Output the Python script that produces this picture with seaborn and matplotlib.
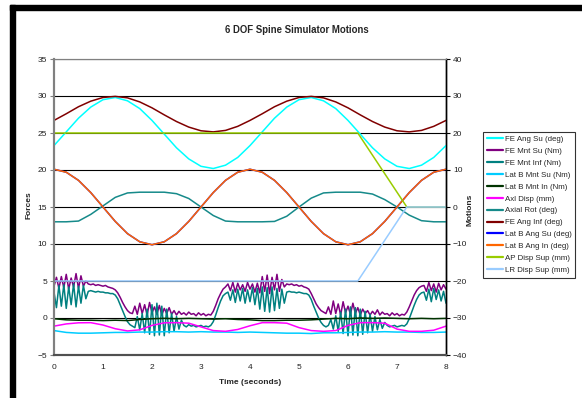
import numpy as np
import pandas as pd
import matplotlib
matplotlib.use("Agg")
import matplotlib.pyplot as plt
import seaborn as sns
from matplotlib.patches import Rectangle

# sample times: 0.25 s for the smooth channels, 0.05 s for the load cells
t_coarse = np.round(np.arange(33) * 0.25, 2)
t_fine = np.round(np.arange(161) * 0.05, 2)

# --- motions (right axis) ---
fe_ang_su = [16.6, 20.3, 24.0, 27.0, 29.0, 29.6, 28.7, 26.6, 23.4, 19.7, 16.0, 13.0, 11.0,
             10.4, 11.3, 13.4, 16.6, 20.3, 24.0, 27.0, 29.0, 29.6, 28.7, 26.6, 23.4, 19.7,
             16.0, 13.0, 11.0, 10.4, 11.3, 13.4, 16.6]
fe_ang_inf = [23.4, 25.2, 27.1, 28.6, 29.6, 29.9, 29.5, 28.4, 26.8, 24.9, 23.1, 21.6, 20.6,
              20.3, 20.7, 21.8, 23.4, 25.2, 27.1, 28.6, 29.6, 29.9, 29.5, 28.4, 26.8, 24.9,
              23.1, 21.6, 20.6, 20.3, 20.7, 21.8, 23.4]
lat_b_ang_su = [10.2, 9.4, 7.2, 3.9, 0.0, -3.9, -7.2, -9.4, -10.2, -9.4, -7.2, -3.9, 0.0,
                3.9, 7.2, 9.4, 10.2, 9.4, 7.2, 3.9, 0.0, -3.9, -7.2, -9.4, -10.2, -9.4,
                -7.2, -3.9, 0.0, 3.9, 7.2, 9.4, 10.2]
lat_b_ang_in = [10.2, 9.4, 7.2, 3.9, 0.0, -3.9, -7.2, -9.4, -10.2, -9.4, -7.2, -3.9, 0.0,
                3.9, 7.2, 9.4, 10.2, 9.4, 7.2, 3.9, 0.0, -3.9, -7.2, -9.4, -10.2, -9.4,
                -7.2, -3.9, 0.0, 3.9, 7.2, 9.4, 10.2]
axial_rot = [-4.0, -4.0, -3.8, -2.0, 0.3, 2.6, 3.8, 4.0, 4.0, 4.0, 3.6, 2.3, 0.0, -2.3,
             -3.8, -4.0, -4.0, -4.0, -3.9, -2.5, 0.0, 2.4, 3.8, 4.0, 4.0, 4.0, 3.5, 2.0,
             0.0, -2.2, -3.7, -4.0, -4.0]
disp_t = [0, 6.2, 7.2, 8]
ap_disp_sup = [20, 20, 0, 0]
lr_disp_sup = [-20, -20, 0, 0]

# --- forces (left axis) ---
lat_b_mnt_su = [-1.7, -1.95, -2.05, -2.05, -2.0, -1.95, -1.95, -1.9, -1.9, -1.85, -1.85,
                -1.9, -1.85, -1.9, -1.9, -1.95, -1.9, -1.95, -2.0, -2.05, -2.05, -2.1,
                -2.0, -2.0, -1.95, -1.9, -1.9, -1.85, -1.9, -1.9, -1.95, -1.95, -1.9]
lat_b_mnt_in = [-0.1, -0.25, -0.3, -0.3, -0.35, -0.3, -0.35, -0.2, -0.1, -0.05, -0.1,
                -0.05, -0.1, -0.15, -0.1, -0.2, -0.25, -0.35, -0.35, -0.3, -0.3, -0.25,
                -0.15, -0.05, -0.1, 0.0, -0.05, 0.0, -0.05, -0.1, -0.05, -0.1, -0.05]
axl_disp = [-1.1, -0.8, -0.65, -0.63, -0.95, -1.45, -1.75, -1.6, -1.0, -0.65, -0.63, -0.7,
            -1.2, -1.7, -1.8, -1.55, -1.05, -0.63, -0.63, -0.7, -1.3, -1.7, -1.8, -1.7,
            -1.0, -0.63, -0.63, -0.7, -1.5, -1.8, -1.8, -1.65, -1.1]

fe_mnt_su = [4.3, 5.5, 4.0, 5.6, 4.1, 5.9, 3.9, 5.4, 4.2, 6.0, 4.0, 5.7, 4.3, 5.0,
             4.6, 4.5, 4.6, 4.4, 4.5, 4.4, 4.3, 4.4, 4.2, 4.1, 4.0, 3.8,
             3.4, 2.8, 2.1, 1.5, 1.0, 0.7, 0.6,
             1.6, 0.5, 2.0, 0.6, 1.8, 0.4, 2.1, 0.7, 1.5, 0.5, 1.7, 0.4, 1.3, 0.6, 1.4,
             0.5, 1.0, 0.4, 0.9, 0.5,
             0.7, 0.4, 0.8, 0.5, 0.6, 0.3, 0.7, 0.4, 0.6, 0.3, 0.5, 0.4,
             0.9, 1.7, 2.6, 3.3, 3.9, 4.2,
             4.6, 3.7, 4.8, 3.5, 4.7, 3.8, 4.5, 3.6, 4.8, 3.9, 4.6, 3.5, 4.7,
             3.4, 5.6, 3.6, 5.8, 3.3, 5.5, 3.8, 5.9, 3.6, 5.2, 4.2,
             4.6, 4.5, 4.6, 4.4, 4.5, 4.3, 4.4, 4.2, 4.1, 3.9,
             3.3, 2.6, 1.9, 1.4, 1.0, 0.8, 0.6,
             1.5, 0.5, 2.3, 0.6, 1.9, 0.4, 2.2, 0.7, 1.6, 0.5, 2.0, 0.6, 1.4, 0.4, 1.2,
             0.6, 1.0, 0.4, 0.9, 0.5, 1.1, 0.4, 0.8, 0.5,
             0.6, 0.3, 0.7, 0.4, 0.6, 0.3, 0.5, 0.4,
             0.8, 1.5, 2.3, 3.1, 3.7, 4.1, 4.3, 4.4,
             3.6, 4.8, 3.7, 4.6, 3.5, 4.7, 3.8, 4.5, 3.9]
fe_mnt_inf = [3.5, 1.4, 4.4, 1.6, 4.5, 1.3, 4.2, 1.8, 4.6, 1.5, 4.3, 2.0, 4.4, 2.6,
              3.6, 3.7, 3.6, 3.5, 3.6, 3.5, 3.5, 3.4, 3.4, 3.3, 3.3, 3.1,
              2.6, 1.8, 1.0, 0.2, -0.5, -0.9, -1.1,
              -1.3, 0.2, -1.6, 0.6, -2.0, 1.2, -2.2, 1.8, -2.4, 2.0, -2.3, 1.6, -2.4, 1.2,
              -2.0, 0.6, -1.8, 0.2, -1.5, -0.3,
              -1.0, -1.2, -0.9, -1.1, -1.0, -1.2, -1.1, -1.0, -1.2, -1.1, -1.2, -1.0,
              -0.5, 0.4, 1.4, 2.3, 3.0, 3.3,
              3.5, 2.4, 3.8, 2.1, 3.9, 2.3, 4.0, 2.0, 3.8, 2.2, 4.1, 1.8, 4.0,
              1.2, 4.2, 0.9, 4.1, 0.8, 4.2, 1.0, 4.0, 1.3, 3.9, 2.0,
              3.5, 3.6, 3.5, 3.5, 3.4, 3.5, 3.4, 3.3, 3.3, 3.1,
              2.5, 1.6, 0.8, 0.0, -0.6, -1.0, -1.2,
              -1.0, -0.2, -1.5, 0.3, -1.8, 0.8, -2.1, 1.2, -2.4, 1.5, -2.3, 1.4, -2.4, 1.2,
              -2.2, 0.9, -2.0, 0.5, -1.8, 0.2, -1.6, -0.2, -1.4, -0.6,
              -1.0, -1.2, -1.1, -1.0, -1.2, -1.1, -1.0, -1.1,
              -0.8, -0.1, 0.8, 1.7, 2.5, 3.1, 3.4, 3.5,
              2.4, 3.9, 2.2, 4.0, 2.5, 3.8, 2.3, 3.6, 2.0]

legend_order = ["FE Ang Su (deg)", "FE Mnt Su (Nm)", "FE Mnt Inf (Nm)", "Lat B Mnt Su (Nm)",
                "Lat B Mnt In (Nm)", "Axl Disp (mm)", "Axial Rot (deg)", "FE Ang Inf (deg)",
                "Lat B Ang Su (deg)", "Lat B Ang In (deg)", "AP Disp Sup (mm)",
                "LR Disp Sup (mm)"]

sns.set_style("white")
plt.rcParams["font.family"] = ["Liberation Sans", "DejaVu Sans"]

fig = plt.figure(figsize=(5.82, 3.98), dpi=100)
ax = fig.add_axes([54 / 582, 1 - 355 / 398, (446 - 54) / 582, (355 - 59) / 398])
ax2 = ax.twinx()

lw = 1.1
lines = {}


def draw(axis, x, y, color, label):
    sns.lineplot(x=x, y=y, ax=axis, color=color, linewidth=lw, label=label, sort=False)
    lines[label] = axis.lines[-1]


# primary axis first (Excel draws it underneath)
draw(ax, t_fine, fe_mnt_su, "#800080", "FE Mnt Su (Nm)")
draw(ax, t_fine, fe_mnt_inf, "#008080", "FE Mnt Inf (Nm)")
draw(ax, t_coarse, lat_b_mnt_su, "#00CCFF", "Lat B Mnt Su (Nm)")
draw(ax, t_coarse, lat_b_mnt_in, "#003300", "Lat B Mnt In (Nm)")
draw(ax, t_coarse, axl_disp, "#FF00FF", "Axl Disp (mm)")

draw(ax2, t_coarse, fe_ang_su, "#00FFFF", "FE Ang Su (deg)")
draw(ax2, t_coarse, axial_rot, "#168A8A", "Axial Rot (deg)")
draw(ax2, t_coarse, fe_ang_inf, "#800000", "FE Ang Inf (deg)")
draw(ax2, t_coarse, lat_b_ang_su, "#0000FF", "Lat B Ang Su (deg)")
draw(ax2, t_coarse, lat_b_ang_in, "#FF6600", "Lat B Ang In (deg)")
draw(ax2, disp_t, ap_disp_sup, "#99CC00", "AP Disp Sup (mm)")
draw(ax2, disp_t, lr_disp_sup, "#99CCFF", "LR Disp Sup (mm)")

for a in (ax, ax2):
    if a.get_legend() is not None:
        a.get_legend().remove()

ax.set_xlim(0, 8)
ax.set_ylim(-5, 35)
ax2.set_ylim(-40, 40)
ax.set_xticks(range(0, 9))
ax.set_yticks(range(-5, 36, 5))
ax2.set_yticks(range(-40, 41, 10))
ax.set_xlabel("")
ax.set_ylabel("")
ax2.set_ylabel("")

ax.yaxis.grid(True, color="black", linewidth=0.8)
ax.xaxis.grid(False)
ax2.grid(False)

tick_kw = dict(labelsize=6, labelcolor="#222222", width=0.8, length=3, pad=2)
ax.tick_params(axis="y", direction="out", color="#808080", **tick_kw)
ax.tick_params(axis="x", direction="inout", color="#404040", **tick_kw)
ax.tick_params(axis="x", pad=5)
ax2.tick_params(axis="y", direction="out", color="black", **tick_kw)

for a in (ax, ax2):
    a.spines["left"].set_color("#808080")
    a.spines["left"].set_linewidth(1.5)
    a.spines["bottom"].set_color("#505050")
    a.spines["bottom"].set_linewidth(1.5)
    a.spines["right"].set_color("black")
    a.spines["right"].set_linewidth(1.0)
    a.spines["top"].set_color("#808080")
    a.spines["top"].set_linewidth(0.8)

fig.text(297 / 582, 1 - 30 / 398, "6 DOF Spine Simulator Motions", ha="center", va="center",
         fontsize=6.9, fontweight="bold")
fig.text(250 / 582, 1 - 382 / 398, "Time (seconds)", ha="center", va="center",
         fontsize=6, fontweight="bold")
fig.text(29 / 582, 1 - 205 / 398, "Forces", ha="center", va="center", rotation=90,
         fontsize=6, fontweight="bold")
fig.text(470 / 582, 1 - 210 / 398, "Motions", ha="center", va="center", rotation=90,
         fontsize=6, fontweight="bold")

leg = fig.legend([lines[k] for k in legend_order], legend_order, loc="upper left",
                 bbox_to_anchor=(483 / 582, 1 - 132 / 398), fontsize=5.7, frameon=True,
                 fancybox=False, edgecolor="black", handlelength=2.1, handletextpad=0.2,
                 labelspacing=0.55, borderpad=0.45, borderaxespad=0)
leg.get_frame().set_linewidth(0.8)
for h in leg.legend_handles:
    h.set_linewidth(1.6)

# thick black frame on the top and left edges of the chart
fig.patches.append(Rectangle((10 / 582, 0), 5 / 582, 393 / 398, transform=fig.transFigure,
                             color="black", zorder=10))
fig.patches.append(Rectangle((10 / 582, 388 / 398), 572 / 582, 5 / 398,
                             transform=fig.transFigure, color="black", zorder=10))

fig.savefig("out.png", dpi=100)
